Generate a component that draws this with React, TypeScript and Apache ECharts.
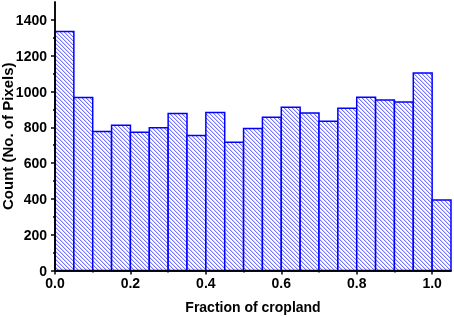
import { useEffect, useRef } from 'react';
import * as echarts from 'echarts';

const binLeft = [0.0, 0.05, 0.1, 0.15, 0.2, 0.25, 0.3, 0.35, 0.4, 0.45, 0.5, 0.55, 0.6, 0.65, 0.7, 0.75, 0.8, 0.85, 0.9, 0.95, 1.0];
const binWidth = 0.05;
const counts = [1335, 966, 776, 811, 772, 798, 877, 754, 882, 716, 793, 856, 912, 880, 834, 906, 968, 953, 942, 1104, 394];
const xMajorTicks = [0, 0.2, 0.4, 0.6, 0.8, 1.0];
const xMinorTicks = [0.1, 0.3, 0.5, 0.7, 0.9];
const yMajorTicks = [0, 200, 400, 600, 800, 1000, 1200, 1400];
const yMinorTicks = [100, 300, 500, 700, 900, 1100, 1300];
const xName = 'Fraction of cropland';
const yName = 'Count (No. of Pixels)';

const FONT = "'Liberation Sans', Arial, sans-serif";

function makeHatch(): string {
  const s = 4;
  const c = document.createElement('canvas');
  c.width = s;
  c.height = s;
  const ctx = c.getContext('2d')!;
  const img = ctx.createImageData(s, s);
  for (let y = 0; y < s; y++) {
    for (let x = 0; x < s; x++) {
      const k = (x - y + s * 4) % s;
      let col = [255, 255, 255];
      if (k === 0) col = [115, 115, 255];
      else if (k === 1) col = [210, 210, 255];
      const i = (y * s + x) * 4;
      img.data[i] = col[0];
      img.data[i + 1] = col[1];
      img.data[i + 2] = col[2];
      img.data[i + 3] = 255;
    }
  }
  ctx.putImageData(img, 0, 0);
  return c.toDataURL();
}

export default function App() {
  const ref = useRef<HTMLDivElement>(null);
  useEffect(() => {
    if (!ref.current) return;
    const chart = echarts.init(ref.current, null, { renderer: 'svg' });
    const pattern = { image: makeHatch(), repeat: 'repeat', imageWidth: 4, imageHeight: 4 };
    const lineStyle = { color: '#000', width: 1.5 };
    const labelStyle = { color: '#000', fontWeight: 'bold' as const, fontSize: 14, fontFamily: FONT };
    const nameStyle = { color: '#000', fontWeight: 'bold' as const, fontSize: 14, fontFamily: FONT };
    chart.setOption({
      animation: false,
      grid: { left: 55, right: 3, top: 2, bottom: 46.5, containLabel: false, outerBoundsMode: 'none' },
      xAxis: [
        {
          type: 'value', min: 0, max: 1.05, position: 'bottom', z: 5,
          axisLine: { show: true, lineStyle },
          axisTick: { show: true, inside: false, length: 4, lineStyle, customValues: xMajorTicks },
          axisLabel: { show: true, margin: 5, customValues: xMajorTicks, formatter: (v: number) => v.toFixed(1), ...labelStyle },
          splitLine: { show: false },
          name: xName, nameLocation: 'middle', nameGap: 29, nameMoveOverlap: false, nameTextStyle: nameStyle,
        },
        {
          type: 'value', min: 0, max: 1.05, position: 'bottom', z: 5,
          axisLine: { show: false },
          axisTick: { show: true, inside: false, length: 2, lineStyle, customValues: xMinorTicks },
          axisLabel: { show: false },
          splitLine: { show: false },
        },
        {
          type: 'value', min: 0, max: 1.05, position: 'top', z: 5,
          axisLine: { show: true, lineStyle },
          axisTick: { show: false },
          axisLabel: { show: false },
          splitLine: { show: false },
        },
      ],
      yAxis: [
        {
          type: 'value', min: 0, max: 1500, position: 'left', z: 5,
          axisLine: { show: true, lineStyle },
          axisTick: { show: true, inside: false, length: 4, lineStyle, customValues: yMajorTicks },
          axisLabel: { show: true, margin: 8, customValues: yMajorTicks, formatter: (v: number) => String(v), ...labelStyle },
          splitLine: { show: false },
          name: yName, nameLocation: 'middle', nameGap: 40, nameMoveOverlap: false,
          nameTextStyle: { ...nameStyle, fontSize: 15, lineHeight: 15 },
        },
        {
          type: 'value', min: 0, max: 1500, position: 'left', z: 5,
          axisLine: { show: false },
          axisTick: { show: true, inside: false, length: 2, lineStyle, customValues: yMinorTicks },
          axisLabel: { show: false },
          splitLine: { show: false },
        },
        {
          type: 'value', min: 0, max: 1500, position: 'right', z: 5,
          axisLine: { show: true, lineStyle },
          axisTick: { show: false },
          axisLabel: { show: false },
          splitLine: { show: false },
        },
      ],
      series: [
        {
          type: 'custom',
          xAxisIndex: 0,
          yAxisIndex: 0,
          data: binLeft.map((x0, i) => [x0, x0 + binWidth, counts[i]]),
          encode: { x: [0, 1], y: 2 },
          renderItem: (_params: any, api: any) => {
            const p0 = api.coord([api.value(0), api.value(2)]);
            const p1 = api.coord([api.value(1), 0]);
            return {
              type: 'rect',
              shape: { x: p0[0], y: p0[1], width: p1[0] - p0[0], height: p1[1] - p0[1] },
              style: { fill: pattern, stroke: '#0000ff', lineWidth: 1.5 },
            };
          },
        },
      ],
    });
    return () => chart.dispose();
  }, []);
  return <div ref={ref} style={{ position: 'fixed', left: 0, top: 0, width: 454, height: 317 }} />;
}
